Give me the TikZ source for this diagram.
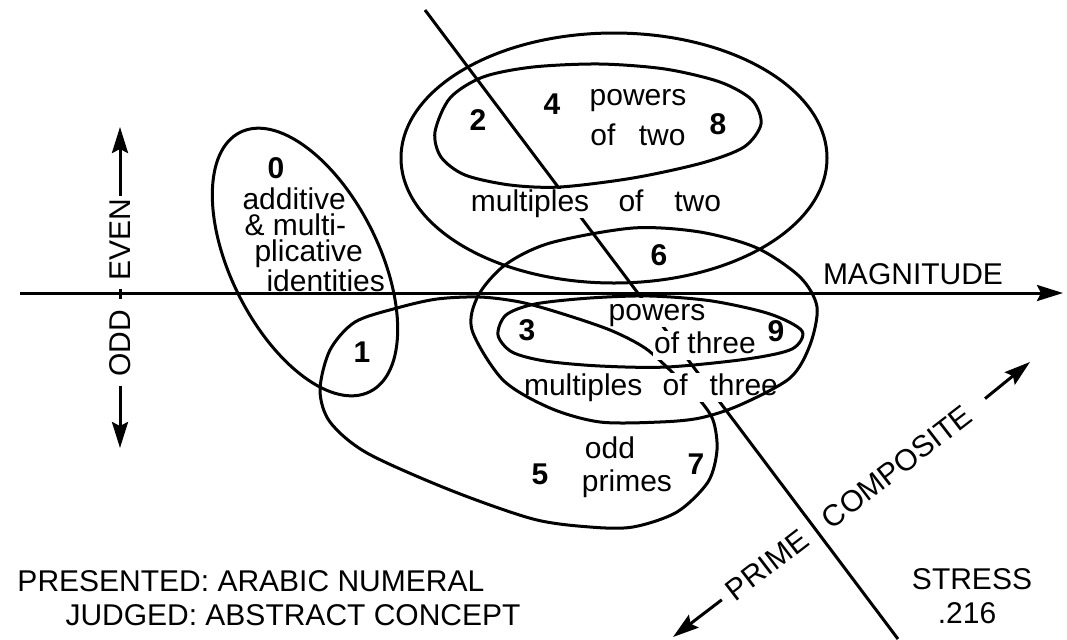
\documentclass[tikz,border=0pt]{standalone}
\usepackage{fontspec}
\setmainfont{Liberation Sans}
\usepackage{tikz}
\usetikzlibrary{arrows.meta, positioning}

\tikzset{
  word/.style={font=\fontsize{15}{18}\selectfont, inner sep=0.6pt, text height=10.5pt, text depth=3pt, anchor=base},
  knock/.style={word, fill=white},
  caps/.style={font=\fontsize{15}{18}\selectfont, inner sep=1pt},
  digit/.style={font=\fontsize{15}{18}\selectfont\bfseries, inner sep=1pt},
  axis/.style={-{Stealth[length=13pt, width=8pt, inset=2pt]}},
}

\begin{document}
\begin{tikzpicture}[x=0.5pt, y=-0.5pt, line width=1.5pt]
        \useasboundingbox (0,0) rectangle (1067,639);

        % magnitude axis
        \coordinate (magL) at (20,293);
        \coordinate (magR) at (1063,293);
        \draw[axis] (magL) -- (magR);
        \node[caps] (mag) at (913,274) {MAGNITUDE};

        % odd / even axis
        \node[caps, rotate=90] (even) at (120,240) {EVEN};
        \node[caps, rotate=90] (odd) at (120,343) {ODD};
        \coordinate (evenTip) at (120,127);
        \coordinate (oddTip) at (120,448);
        \draw[axis] (even.east) -- (evenTip);
        \draw[axis, shorten <=3pt] (odd.west) -- (oddTip);
        \draw[shorten <=2.5pt, shorten >=3.5pt] (even.west) -- (odd.east);

        % prime / composite divider and axis
        \coordinate (divTop) at (425,10);
        \coordinate (divBot) at (898,639);
        \draw (divTop) -- (divBot);
        \node[caps, rotate=37.6] (prime) at (767,565) {PRIME};
        \node[caps, rotate=37.6] (comp) at (897,467) {COMPOSITE};
        \coordinate (primeTip) at (673,637);
        \coordinate (compTip) at (1030,362);
        \draw[axis, shorten <=3pt] (prime.west) -- (primeTip);
        \draw[axis, shorten <=9pt] (comp.east) -- (compTip);

        % odd primes region
        \draw plot[smooth cycle] coordinates {(320,390) (330,350) (355,322) (397,308)
            (437,299) (480,297) (520,302) (560,313) (610,330) (645,348) (672,372)
            (698,398) (713,420) (717,450) (708,482) (677,512) (633,527) (590,527)
            (533,519) (450,490) (367,453) (330,422)};

        % labels
        \node[digit] (n0) at (276,168) {0};
        \node[font=\fontsize{15}{13}\selectfont, inner sep=1pt, align=left, anchor=south west]
            (ident) at (239,295) {additive\\\hspace{1pt}\& multi-\\\hspace{6pt}plicative\\\hspace{12pt}identities};
        \node[digit] (n1) at (362,352) {1};
        \node[digit] (n2) at (478,120) {2};
        \node[digit] (n4) at (552,104) {4};
        \node[digit] (n8) at (718,124) {8};
        \node[word] (pw2a) at (638,105) {powers};
        \node[word] (pw2b) at (638,145) {of\hspace{0.5em} two};
        \node[knock] (mul2) at (596,211) {multiples\hspace{0.7em} of\hspace{0.75em} two};
        \node[digit] (n6) at (659,255) {6};
        \node[digit] (n3) at (527,330) {3};
        \node[digit] (n9) at (776,331) {9};
        \node[knock] (pw3a) at (657,320) {powers};
        \node[knock] (pw3b) at (705,353) {of three};
        \node[knock] (mul3) at (651,395) {multiples\hspace{0.4em} of\hspace{0.45em} three};
        \node[digit] (n5) at (540,474) {5};
        \node[digit] (n7) at (696,464) {7};
        \node[word] (op1) at (610,458) {odd};
        \node[word] (op2) at (627,491) {primes};

        % ellipses
        \draw[rotate around={-63.4:(305,262)}] (305,262) ellipse [x radius=145, y radius=74];
        \draw (614,158) ellipse [x radius=213, y radius=125];
        \draw plot[smooth cycle] coordinates {(435,132) (441,157) (465,175) (510,185)
            (560,187) (633,178) (702,163) (744,147) (761,124) (752,100) (720,82)
            (665,69) (600,64) (533,67) (483,77) (450,98)};
        \draw plot[smooth cycle] coordinates {(472,330) (478,296) (505,265) (550,243)
            (633,228) (700,232) (757,248) (800,277) (817,307) (810,345) (790,378)
            (740,405) (700,418) (660,422) (600,422) (550,408) (503,380)};
        \draw plot[smooth cycle] coordinates {(498,335) (506,315) (535,304) (590,298)
            (650,296) (712,301) (770,314) (802,331) (792,349) (747,359) (667,367)
            (600,366) (545,361) (512,352)};

        % stimulus and fit
        \node[caps, anchor=west] (pres) at (14,581) {PRESENTED: ARABIC NUMERAL};
        \node[caps, anchor=west] (judg) at (62,615) {JUDGED: ABSTRACT CONCEPT};
        \node[caps] (stress) at (972,579) {STRESS};
        \node[caps] (stressval) at (967,613) {.216};
    \end{tikzpicture}
\end{document}
